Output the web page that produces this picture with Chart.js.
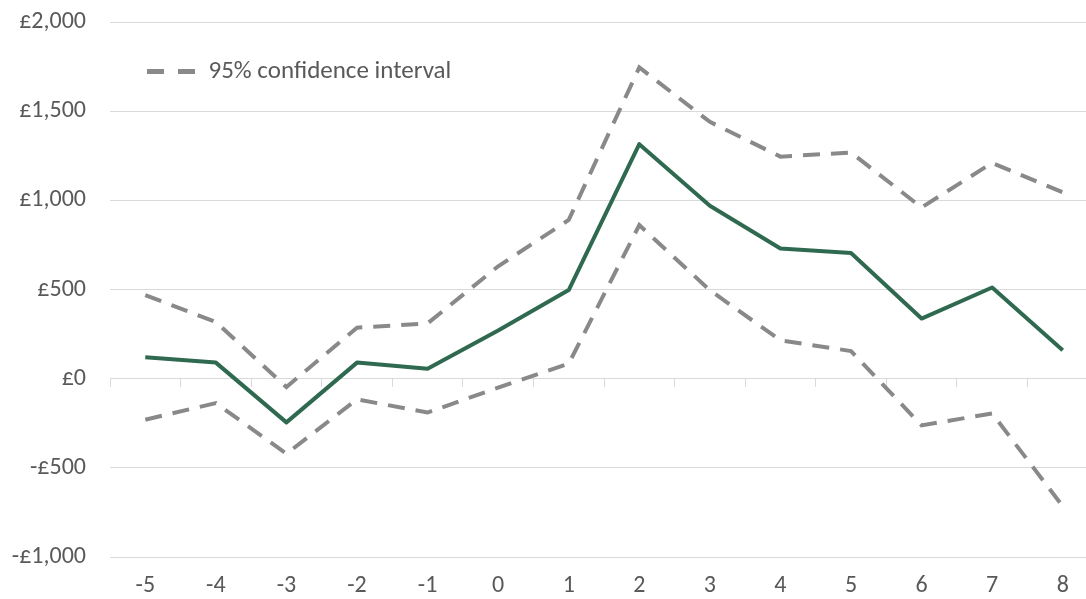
<!DOCTYPE html>
<html>
<head>
<meta charset="utf-8">
<script src="https://cdn.jsdelivr.net/npm/chart.js@4/dist/chart.umd.min.js"></script>
<style>
  html, body { margin: 0; padding: 0; background: #fff; overflow: hidden; }
  #wrap { position: relative; width: 1100px; height: 599px; }
</style>
</head>
<body>
<div id="wrap"><canvas id="ciChart"></canvas></div>
<script>
// years relative to the event
var categories = ['-5', '-4', '-3', '-2', '-1', '0', '1', '2', '3', '4', '5', '6', '7', '8'];
var estimate = [120, 90, -245, 90, 55, 270, 497, 1315, 970, 730, 705, 337, 511, 160];
var upperCI = [468, 318, -47, 286, 310, 630, 890, 1745, 1440, 1245, 1268, 960, 1210, 1045];
var lowerCI = [-230, -137, -421, -116, -190, -50, 84, 861, 496, 215, 155, -262, -195, -715];
var yTicks = [-1000, -500, 0, 500, 1000, 1500, 2000];

var textGrey = '#595959';
var gridGrey = '#d9d9d9';
var dashGrey = '#898989';

function pounds(v) {
    var s = '£' + Math.abs(v).toLocaleString('en-GB');
    return v < 0 ? '-' + s : s;
}

Chart.defaults.font.family = 'Carlito, Lato, sans-serif';
Chart.defaults.font.size = 24;
Chart.defaults.color = textGrey;

var ciChart = new Chart(document.getElementById('ciChart').getContext('2d'), {
    type: 'line',
    data: {
        labels: categories,
        datasets: [
            {
                label: 'Estimate',
                data: estimate,
                borderColor: '#2f6a50',
                borderWidth: 4,
                pointRadius: 0,
                tension: 0,
                borderJoinStyle: 'round'
            },
            {
                label: '95% confidence interval',
                data: upperCI,
                borderColor: dashGrey,
                borderWidth: 4,
                borderDash: [17, 11],
                pointRadius: 0,
                tension: 0
            },
            {
                label: '95% confidence interval (lower)',
                data: lowerCI,
                borderColor: dashGrey,
                borderWidth: 4,
                borderDash: [17, 11],
                pointRadius: 0,
                tension: 0
            }
        ]
    },
    options: {
        responsive: true,
        maintainAspectRatio: false,
        animation: false,
        layout: { padding: { left: 0, top: 22, right: 2, bottom: 0 } },
        plugins: {
            tooltip: { enabled: false },
            legend: {
                position: 'chartArea',
                align: 'start',
                // empty title only pushes the legend row down
                title: { display: true, text: '', font: { size: 10 }, padding: { top: 5, bottom: 5 } },
                labels: {
                    usePointStyle: true,
                    pointStyleWidth: 49,
                    padding: 37,
                    color: textGrey,
                    font: { size: 25 },
                    generateLabels: function(chart) {
                        var items = Chart.defaults.plugins.legend.labels.generateLabels(chart);
                        items = items.filter(function(item) { return item.datasetIndex === 1; });
                        items.forEach(function(item) {
                            item.pointStyle = 'line';
                            item.lineDash = [17, 14];
                            item.lineWidth = 5;
                            item.strokeStyle = dashGrey;
                        });
                        return items;
                    }
                }
            }
        },
        scales: {
            x: {
                type: 'category',
                offset: true,
                grid: { display: false },
                border: { display: false },
                ticks: { padding: 7, color: textGrey, maxRotation: 0 },
                afterFit: function(scale) { scale.height = 42; }
            },
            x2: {
                type: 'category',
                labels: categories,
                offset: true,
                position: { y: 0 },
                grid: {
                    display: true,
                    drawOnChartArea: false,
                    drawTicks: true,
                    tickLength: 8,
                    offset: true,
                    color: gridGrey
                },
                border: { display: true, color: gridGrey, width: 1 },
                ticks: { display: false }
            },
            y: {
                min: -1000,
                max: 2000,
                afterBuildTicks: function(scale) {
                    scale.ticks = yTicks.map(function(v) { return { value: v }; });
                },
                grid: { color: gridGrey, drawTicks: false, lineWidth: 1 },
                border: { display: false },
                ticks: {
                    padding: 24,
                    color: textGrey,
                    callback: function(v) { return pounds(v); }
                },
                afterFit: function(scale) {
                    scale.width = 110;
                    scale.paddingTop = 0;
                    scale.paddingBottom = 0;
                }
            }
        }
    }
});
</script>
</body>
</html>
